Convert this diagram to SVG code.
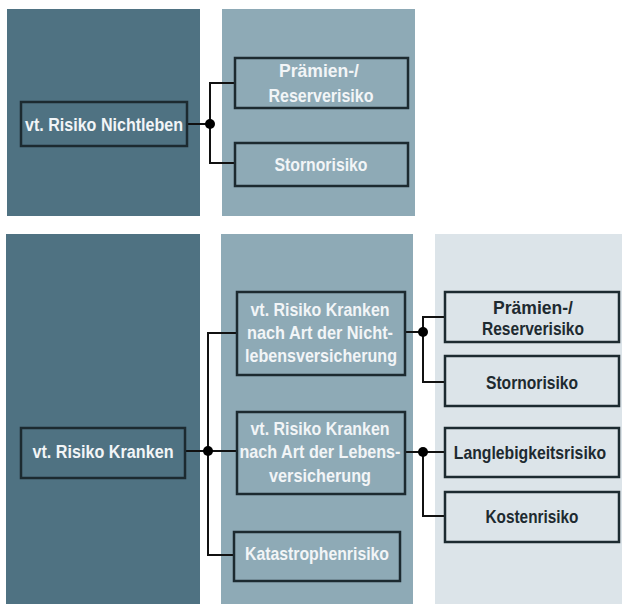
<svg xmlns="http://www.w3.org/2000/svg" width="622" height="604" viewBox="0 0 622 604">
<style>
.pd{fill:#4f7282}
.pm{fill:#8eaab6}
.pl{fill:#dce4e9}
.bd{fill:#4f7282;stroke:#1c2a30;stroke-width:2.5}
.bm{fill:#8eaab6;stroke:#1c2a30;stroke-width:2.5}
.bl{fill:#dce4e9;stroke:#1c2a30;stroke-width:2.5}
text{font-family:"Liberation Sans",Arial,sans-serif;font-weight:bold;font-size:19px;text-anchor:middle}
.tw{fill:#f2f5f7}
.tk{fill:#1e2a30}
.c{fill:none;stroke:#111;stroke-width:2}
.dot{fill:#000}
</style>
<rect width="622" height="604" fill="#ffffff"/>
<g id="panels">
<rect class="pd" x="7" y="9" width="193" height="207"/>
<rect class="pm" x="222" y="9" width="193" height="207"/>
<rect class="pd" x="6" y="234" width="194" height="370"/>
<rect class="pm" x="221" y="234" width="192" height="370"/>
<rect class="pl" x="435" y="234" width="187" height="370"/>
</g>
<g id="connectors">
<path class="c" d="M187 124H210M235 83H210V163H235"/>
<circle class="dot" cx="210" cy="124" r="5"/>
<path class="c" d="M185 451H237M237 333H208V555H234"/>
<circle class="dot" cx="208" cy="451" r="5"/>
<path class="c" d="M405 332H423M445 317H423V382H445"/>
<circle class="dot" cx="423" cy="332" r="5"/>
<path class="c" d="M405 452H445M423 452V516H445"/>
<circle class="dot" cx="423" cy="452" r="5"/>
</g>
<g id="n_nichtleben">
<rect class="bd" x="21" y="102" width="166" height="44"/>
<text class="tw" x="104" y="131" textLength="158" lengthAdjust="spacingAndGlyphs">vt. Risiko Nichtleben</text>
</g>
<g id="n_praemien1">
<rect class="bm" x="235" y="58" width="173" height="50"/>
<text class="tw" x="319" y="77" textLength="80" lengthAdjust="spacingAndGlyphs">Prämien-/</text>
<text class="tw" x="321" y="102" textLength="105" lengthAdjust="spacingAndGlyphs">Reserverisiko</text>
</g>
<g id="n_storno1">
<rect class="bm" x="235" y="143" width="173" height="43"/>
<text class="tw" x="321" y="171" textLength="93" lengthAdjust="spacingAndGlyphs">Stornorisiko</text>
</g>
<g id="n_kranken">
<rect class="bd" x="21" y="428" width="164" height="50"/>
<text class="tw" x="103" y="458" textLength="141" lengthAdjust="spacingAndGlyphs">vt. Risiko Kranken</text>
</g>
<g id="n_knl">
<rect class="bm" x="237" y="292" width="168" height="83"/>
<text class="tw" x="320" y="316" textLength="139" lengthAdjust="spacingAndGlyphs">vt. Risiko Kranken</text>
<text class="tw" x="320" y="339" textLength="146" lengthAdjust="spacingAndGlyphs">nach Art der Nicht-</text>
<text class="tw" x="321" y="362" textLength="152" lengthAdjust="spacingAndGlyphs">lebensversicherung</text>
</g>
<g id="n_kl">
<rect class="bm" x="237" y="412" width="168" height="82"/>
<text class="tw" x="320" y="435" textLength="139" lengthAdjust="spacingAndGlyphs">vt. Risiko Kranken</text>
<text class="tw" x="320" y="458" textLength="161" lengthAdjust="spacingAndGlyphs">nach Art der Lebens-</text>
<text class="tw" x="320" y="482" textLength="102" lengthAdjust="spacingAndGlyphs">versicherung</text>
</g>
<g id="n_kat">
<rect class="bm" x="234" y="532" width="166" height="49"/>
<text class="tw" x="317" y="560" textLength="144" lengthAdjust="spacingAndGlyphs">Katastrophenrisiko</text>
</g>
<g id="n_praemien2">
<rect class="bl" x="445" y="292" width="174" height="50"/>
<text class="tk" x="533" y="314" textLength="80" lengthAdjust="spacingAndGlyphs">Prämien-/</text>
<text class="tk" x="533" y="335" textLength="102" lengthAdjust="spacingAndGlyphs">Reserverisiko</text>
</g>
<g id="n_storno2">
<rect class="bl" x="445" y="356" width="174" height="50"/>
<text class="tk" x="532" y="389" textLength="92" lengthAdjust="spacingAndGlyphs">Stornorisiko</text>
</g>
<g id="n_langleb">
<rect class="bl" x="445" y="428" width="174" height="49"/>
<text class="tk" transform="translate(530 459) scale(0.83 1)" x="0" y="0">Langlebigkeitsrisiko</text>
</g>
<g id="n_kosten">
<rect class="bl" x="445" y="492" width="174" height="50"/>
<text class="tk" x="532" y="523" textLength="93" lengthAdjust="spacingAndGlyphs">Kostenrisiko</text>
</g>
</svg>
